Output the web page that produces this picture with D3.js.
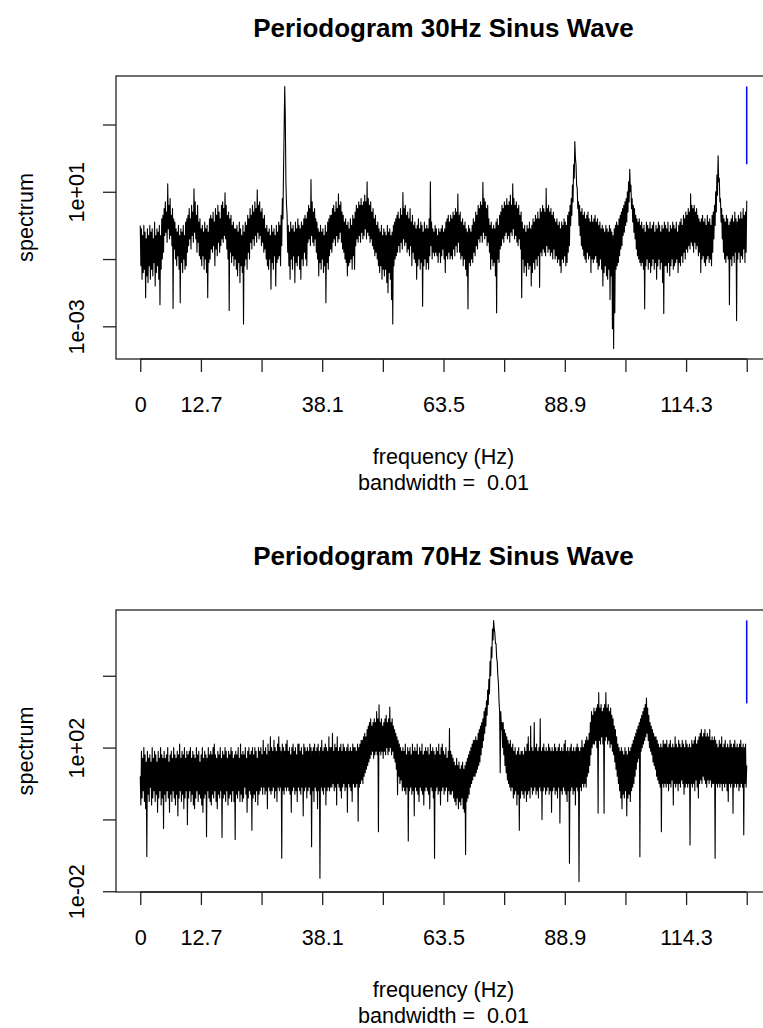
<!DOCTYPE html>
<html>
<head>
<meta charset="utf-8">
<script src="https://cdn.jsdelivr.net/npm/d3@7"></script>
<style>
  body { margin: 0; background: #fff; }
  text { font-family: "Liberation Sans", Arial, Helvetica, sans-serif; fill: #000; }
</style>
</head>
<body>
<svg width="763" height="1028"></svg>
<script>
// frequency grid of both periodograms (Hz)
const freqStep = 0.125;

// log10(spectrum), one value every freqStep Hz from 0 to 127
// (one row = 5 Hz)
const spec30Log = [
    0.0,-1.2, -0.1,-1.6, -0.3,-1.4, 0.0,-1.3, -0.2,-2.15, -0.4,-1.5, -0.1,-1.7, -0.3,-1.2, 0.0,-1.6, -0.2,-1.3, -0.1,-1.5, -0.4,-1.1, 0.1,-1.8, -0.3,-1.4, -0.1,-1.2, -0.2,-1.6, 0.0,-2.36, -0.3,-1.3, 0.2,-1.0, 0.3,-0.8,
    0.5,-0.3, 0.7,-0.2, 0.4,-0.5, 1.24,-0.1, 0.6,-0.4, 0.8,-0.3, 0.3,-0.6, 0.5,-2.47, 0.2,-0.7, 0.1,-1.0, -0.1,-1.2, -0.2,-0.9, 0.0,-1.3, -0.3,-2.3, -0.1,-1.1, -0.2,-1.4, 0.0,-1.0, -0.3,-1.3, 0.1,-1.2, 0.2,-0.8,
    0.3,-0.6, 0.5,-0.4, 0.2,-0.7, 0.6,-0.3, 0.4,-0.5, 1.09,-0.2, 0.7,-0.4, 0.3,-0.8, 0.6,-0.5, 0.1,-0.9, 0.2,-1.0, -0.1,-1.2, 0.0,-0.9, -0.2,-1.3, 0.1,-1.0, -0.1,-1.4, 0.0,-2.15, -0.2,-1.1, 0.2,-1.0, 0.3,-0.7,
    0.2,-0.8, 0.4,-0.6, 0.1,-1.2, 0.5,-0.7, 0.3,-0.9, 0.6,-0.5, 0.4,-0.8, 0.2,-0.6, 0.6,-0.4, 0.7,-0.5, 0.5,-0.3, 0.97,-0.4, 0.6,-0.7, 0.3,-1.0, 0.4,-2.53, 0.2,-0.8, 0.3,-1.1, 0.0,-0.9, 0.1,-1.2, -0.1,-1.0,
    -0.1,-1.3, 0.0,-1.5, -0.2,-1.1, 0.1,-1.7, -0.1,-1.2, -0.3,-1.4, 0.0,-2.93, -0.2,-1.2, 0.1,-1.0, 0.0,-1.3, 0.3,-0.8, 0.2,-1.0, 0.5,-0.5, 0.3,-0.7, 0.6,-0.4, 0.4,-0.6, 0.7,-0.3, 0.5,-0.5, 1.06,-0.2, 0.6,-0.4,
    0.7,-0.3, 0.4,-0.6, 0.5,-0.5, 0.2,-0.8, 0.3,-0.7, -0.1,-1.0, 0.0,-1.2, -0.2,-1.3, -0.1,-1.0, -0.3,-1.9, 0.0,-1.1, -0.2,-1.3, -0.1,-0.9, -0.3,-1.8, 0.0,-1.1, -0.2,-1.0, 0.1,-0.9, 0.0,-1.2, 0.3,-0.6, 0.8,0.2,
    1.6,2.8, 4.13,3.2, 1.3,0.6, 0.3,-0.8, 0.0,-1.2, -0.2,-1.6, 0.1,-1.0, -0.1,-1.3, 0.0,-0.9, -0.2,-1.7, 0.1,-1.1, -0.1,-1.2, 0.2,-0.9, 0.0,-1.3, -0.1,-1.6, 0.1,-1.0, 0.0,-1.2, 0.2,-0.8, 0.3,-1.0, 0.2,-1.2,
    0.4,-0.5, 0.6,-0.4, 0.5,-0.6, 1.36,-0.3, 0.7,-0.5, 0.4,-0.6, 0.5,-0.4, 0.2,-0.8, 0.1,-1.0, -0.1,-1.5, -0.2,-1.1, 0.0,-1.3, -0.2,-1.0, -0.1,-1.4, -0.3,-1.2, 0.0,-2.3, -0.2,-1.1, 0.1,-1.3, 0.2,-0.9, 0.3,-0.7,
    0.3,-0.8, 0.5,-0.5, 0.6,-0.4, 0.4,-0.6, 0.7,-0.3, 0.5,-0.5, 0.94,-0.4, 0.6,-0.2, 0.7,-0.5, 0.4,-0.7, 0.3,-0.8, 0.1,-1.0, 0.2,-1.1, 0.0,-1.5, 0.1,-1.2, -0.1,-1.1, 0.2,-1.0, 0.0,-1.3, 0.3,-0.9, 0.2,-1.3,
    0.4,-0.6, 0.6,-0.4, 0.5,-0.5, 0.7,-0.3, 0.6,-0.5, 0.8,-0.2, 0.6,-0.4, 0.7,-0.3, 0.9,-0.1, 0.7,-0.4, 1.3,-0.2, 0.8,-0.3, 0.6,-0.5, 0.7,-0.4, 0.4,-0.6, 0.5,-0.7, 0.2,-0.9, 0.3,-0.8, 0.0,-1.0, 0.1,-1.2,
    -0.1,-1.4, -0.2,-1.2, 0.0,-1.6, -0.3,-1.3, -0.1,-1.5, -0.2,-1.3, -0.3,-1.7, 0.0,-2.0, -0.2,-1.4, -0.1,-1.6, -0.3,-2.2, -0.2,-2.93, 0.0,-1.2, 0.1,-1.0, 0.2,-0.9, 0.3,-0.8, 0.4,-0.6, 0.2,-0.8, 0.5,-0.5, 0.3,-0.7,
    0.98,-0.4, 0.5,-0.6, 0.6,-0.5, 0.3,-0.8, 0.4,-0.7, 0.2,-0.9, 0.5,-0.6, 0.1,-1.2, 0.3,-0.8, 0.0,-1.0, 0.1,-1.1, -0.1,-1.6, 0.0,-1.2, 0.2,-1.0, -0.1,-1.3, 0.1,-1.1, 0.0,-2.4, -0.2,-1.2, 0.1,-1.0, -0.1,-1.3,
    0.0,-1.1, -0.1,-1.3, 0.2,-0.9, 1.3,-0.6, 0.1,-1.0, -0.1,-0.8, -0.2,-0.9, 0.0,-0.8, -0.1,-0.9, -0.3,-1.1, -0.1,-0.8, -0.2,-1.1, -0.1,-0.9, 0.0,-0.7, -0.2,-1.0, -0.1,-1.4, 0.1,-0.9, 0.2,-1.0, 0.3,-0.8, 0.1,-1.0,
    0.3,-0.9, 0.2,-1.0, 0.4,-0.7, 0.3,-0.9, 0.5,-0.6, 0.4,-0.8, 0.93,-0.5, 0.3,-0.8, 0.4,-1.0, 0.1,-0.9, 0.2,-1.2, 0.0,-1.0, 0.1,-1.3, -0.1,-1.5, -0.2,-2.48, 0.0,-1.1, -0.1,-1.2, -0.2,-1.0, 0.0,-1.1, 0.2,-0.8,
    0.1,-0.9, 0.4,-0.6, 0.3,-0.7, 0.6,-0.4, 0.5,-0.5, 0.7,-0.3, 0.6,-0.5, 1.28,-0.2, 0.8,-0.4, 0.7,-0.3, 0.5,-0.6, 0.6,-0.5, 0.2,-0.8, 0.0,-1.3, 0.1,-1.0, -0.1,-1.2, 0.0,-1.1, -0.1,-1.5, 0.1,-2.6, 0.2,-1.0,
    0.0,-1.1, 0.3,-0.7, 0.4,-0.6, 0.6,-0.4, 0.5,-0.5, 0.7,-0.3, 0.6,-0.2, 0.8,-0.4, 0.6,-0.3, 0.7,-0.5, 0.9,-0.2, 0.6,-0.3, 1.24,-0.1, 0.8,-0.4, 0.6,-0.3, 0.7,-0.5, 0.5,-0.6, 0.6,-0.4, 0.3,-0.7, 0.4,-2.15,
    0.1,-1.0, -0.1,-1.4, 0.0,-1.2, -0.2,-1.5, 0.0,-1.1, -0.1,-1.3, 0.1,-1.2, -0.1,-1.8, 0.0,-1.4, 0.2,-1.1, 0.1,-1.3, 0.3,-1.0, 0.2,-1.2, 0.4,-0.9, 0.2,-1.84, 0.5,-0.8, 0.4,-0.9, 0.6,-0.7, 0.5,-0.8, 0.4,-0.9,
    1.1,-0.6, 0.5,-0.8, 0.6,-0.7, 0.4,-0.9, 0.5,-0.8, 0.3,-1.0, 0.4,-0.7, 0.2,-1.0, 0.1,-0.9, 0.2,-1.1, 0.0,-1.0, 0.1,-1.2, -0.1,-1.4, 0.1,-1.0, 0.0,-1.1, 0.2,-0.9, 0.1,-1.2, 0.0,-1.1, 0.3,-0.8, 0.4,-0.6,
    0.6,0.0, 0.8,0.3, 1.2,0.7, 1.8,1.4, 2.49,2.0, 1.8,1.2, 1.1,0.5, 0.7,0.0, 0.6,-0.3, 0.4,-0.6, 0.5,-0.7, 0.3,-0.9, 0.4,-1.0, 0.2,-1.1, 0.3,-0.8, 0.4,-1.0, 0.2,-0.9, 0.1,-1.4, 0.3,-1.0, 0.1,-1.1,
    0.2,-1.0, 0.3,-0.9, 0.1,-1.1, 0.2,-1.3, 0.0,-1.2, 0.1,-1.0, -0.1,-1.3, 0.0,-1.8, -0.1,-1.4, -0.2,-1.2, 0.0,-1.5, -0.1,-1.6, -0.2,-1.3, 0.0,-2.2, -0.1,-1.5, -0.2,-3.07, -0.3,-3.66, -0.1,-2.6, 0.0,-1.3, 0.1,-1.2,
    0.0,-1.1, 0.2,-0.9, 0.3,-0.7, 0.4,-0.6, 0.5,-0.3, 0.6,-0.2, 0.7,0.0, 0.8,0.1, 1.0,0.4, 1.3,0.7, 1.67,1.0, 1.2,0.5, 0.8,0.1, 0.6,-0.2, 0.5,-0.4, 0.3,-0.7, 0.2,-0.9, 0.1,-1.0, 0.2,-1.1, 0.0,-1.2,
    0.1,-1.1, -0.1,-1.3, 0.0,-2.48, -0.2,-1.2, 0.1,-1.0, 0.0,-1.3, -0.1,-1.1, 0.1,-1.4, -0.1,-1.2, 0.0,-1.0, 0.1,-1.3, -0.2,-1.1, 0.0,-1.6, -0.1,-1.2, 0.1,-1.0, 0.0,-1.3, -0.2,-1.1, 0.0,-1.7, -0.1,-2.62, 0.1,-1.2,
    0.0,-1.2, -0.1,-1.4, 0.1,-1.1, -0.2,-1.5, 0.0,-1.2, -0.1,-1.0, 0.1,-1.3, 0.0,-1.2, -0.1,-1.1, 0.1,-1.0, -0.2,-1.4, 0.0,-1.1, 0.1,-1.2, 0.2,-0.9, 0.0,-1.1, 0.3,-0.8, 0.2,-1.0, 0.4,-0.7, 0.3,-0.8, 0.5,-0.6,
    0.4,-0.7, 0.94,-0.5, 0.6,-0.6, 0.5,-0.8, 0.6,-0.5, 0.4,-0.7, 0.5,-0.6, 0.3,-0.9, 0.2,-0.8, 0.1,-1.4, 0.2,-1.0, 0.3,-0.9, 0.1,-1.1, 0.2,-1.2, 0.0,-1.0, 0.3,-0.9, 0.1,-1.1, 0.2,-1.0, 0.0,-1.2, 0.3,-0.8,
    0.4,-0.4, 0.6,0.0, 1.0,0.4, 1.5,0.9, 2.07,1.3, 1.4,0.7, 0.8,0.1, 0.5,-0.4, 0.3,-0.8, 0.2,-1.0, 0.1,-1.1, 0.3,-0.9, 0.2,-1.0, 0.0,-2.36, 0.1,-1.0, 0.2,-1.2, 0.3,-0.9, 0.1,-1.1, 0.4,-0.8, 0.2,-2.83,
    0.1,-1.0, 0.3,-0.8, 0.2,-1.1, 0.4,-0.9, 0.2,-1.0, 0.5,-0.7, 0.3,-1.1, 0.4,-0.8, 0.73
];

const spec70Log = [
    1.2,0.4, 1.9,0.6, 1.7,0.8, 2.0,0.5, 1.8,0.3, 1.6,-1.03, 1.9,0.7, 1.7,0.5, 1.8,0.9, 1.6,0.4, 2.0,0.6, 1.7,0.8, 1.9,0.5, 1.8,0.7, 1.6,0.2, 1.9,0.6, 1.7,0.8, 2.0,0.4, 1.8,0.6, 1.7,-0.25,
    1.9,0.7, 1.7,0.5, 1.8,0.8, 2.0,0.6, 1.6,0.2, 1.8,0.7, 1.9,0.5, 1.7,0.8, 2.0,0.6, 1.8,0.4, 1.7,0.7, 1.9,0.1, 1.8,0.6, 2.1,0.8, 1.7,0.5, 1.9,0.7, 1.8,0.3, 2.0,0.6, 1.7,0.8, 1.9,-0.15,
    1.8,0.6, 1.9,0.8, 2.0,0.5, 1.7,0.7, 1.9,0.4, 1.8,0.3, 1.7,0.6, 2.0,0.8, 1.8,0.5, 1.9,0.7, 1.6,0.6, 1.8,0.4, 2.0,0.2, 1.7,0.6, 1.9,0.7, 1.8,-0.48, 1.7,0.8, 2.0,0.6, 1.8,0.5, 1.9,0.4,
    1.8,0.7, 2.0,0.6, 2.1,0.8, 1.8,0.5, 1.7,0.3, 1.9,0.7, 1.8,0.6, 2.0,0.8, 1.7,-0.5, 1.9,0.6, 1.8,0.7, 2.0,0.5, 1.9,0.8, 1.7,0.4, 1.9,0.6, 1.8,0.7, 2.0,0.5, 1.9,0.8, 1.7,0.5, 1.8,-0.56,
    1.9,0.7, 1.8,0.6, 2.0,0.8, 1.7,0.5, 2.1,0.7, 1.8,0.5, 1.9,0.6, 1.8,0.9, 2.0,0.7, 1.7,0.2, 1.9,0.6, 2.0,0.8, 1.8,0.7, 1.9,-0.3, 2.0,0.6, 1.8,0.7, 2.0,0.5, 1.9,0.8, 1.7,0.4, 2.0,0.7,
    1.9,0.8, 2.0,0.9, 1.8,0.7, 2.2,0.9, 1.9,0.7, 2.0,0.8, 1.8,0.3, 2.1,0.9, 1.9,0.8, 2.3,0.7, 2.0,0.8, 1.9,0.9, 2.2,0.6, 2.0,0.8, 1.9,0.5, 2.1,0.9, 2.3,0.8, 2.0,0.9, 1.9,-1.08, 2.1,0.8,
    2.0,0.7, 1.9,0.9, 2.1,0.8, 2.2,0.9, 1.9,0.8, 2.0,0.7, 1.8,0.2, 2.0,0.8, 2.1,0.9, 1.9,0.7, 2.0,0.8, 1.8,0.5, 2.1,0.9, 2.1,0.8, 1.9,0.7, 2.0,0.9, 1.8,0.1, 2.1,0.8, 2.0,0.9, 1.9,0.6,
    2.0,0.8, 1.9,0.9, 2.1,0.7, 2.0,-0.76, 1.9,0.8, 2.0,0.5, 2.1,0.9, 1.9,0.8, 2.0,0.3, 2.1,0.8, 1.9,-1.64, 2.0,0.9, 2.2,0.8, 1.9,0.7, 2.0,0.9, 2.1,0.4, 2.0,0.8, 1.9,0.9, 2.3,0.8, 2.0,0.9,
    2.0,0.9, 2.4,1.0, 1.9,0.8, 2.1,0.9, 2.0,0.4, 2.3,1.0, 1.9,0.9, 2.0,0.8, 2.1,0.6, 1.9,0.9, 2.1,1.0, 2.0,0.8, 1.9,0.9, 2.0,0.2, 2.1,1.0, 1.9,0.9, 2.0,0.8, 1.9,0.5, 2.1,1.0, 2.0,0.9,
    2.0,0.9, 1.9,1.0, 2.1,-0.05, 2.0,0.9, 2.1,1.0, 2.2,1.1, 2.2,1.0, 2.3,1.2, 2.4,1.3, 2.3,1.4, 2.5,1.5, 2.6,1.6, 2.7,1.7, 2.8,1.8, 2.6,1.9, 2.7,1.7, 2.8,1.8, 2.7,1.9, 3.0,1.8, 2.8,-0.34,
    3.19,1.9, 2.7,1.8, 2.8,1.9, 2.6,1.7, 2.7,1.9, 2.8,1.8, 2.9,2.0, 2.7,1.8, 2.8,1.9, 3.13,2.0, 2.7,1.8, 2.8,1.9, 2.6,1.7, 2.5,1.6, 2.4,1.4, 2.3,0.69, 2.2,1.2, 2.1,1.0, 2.0,1.1, 1.9,0.8,
    2.0,0.9, 1.9,0.8, 2.1,0.7, 1.8,0.9, 2.0,-0.6, 1.9,0.8, 2.0,0.9, 1.8,0.7, 2.1,0.8, 1.9,0.1, 2.0,0.9, 1.9,0.8, 2.1,0.7, 1.8,0.5, 2.0,0.9, 1.9,0.8, 2.1,0.7, 1.8,0.4, 1.9,0.8, 2.0,0.9,
    1.9,0.8, 2.0,0.7, 1.8,0.3, 2.1,0.9, 1.9,0.8, 2.0,0.6, 1.9,-1.08, 1.8,0.8, 2.0,0.9, 1.9,0.7, 2.1,0.8, 1.8,0.4, 2.0,0.8, 2.1,0.9, 1.9,0.7, 1.8,0.8, 2.0,0.9, 1.7,0.5, 1.9,0.8, 2.53,0.7,
    1.9,0.7, 1.8,0.8, 1.7,0.6, 1.6,0.5, 1.5,0.4, 1.7,0.6, 1.5,0.3, 1.6,0.5, 1.4,0.4, 1.5,0.6, 1.6,0.3, 1.4,0.2, 1.5,-0.98, 1.6,0.5, 1.7,0.6, 1.8,0.7, 1.9,0.9, 2.0,1.0, 2.1,1.1, 2.2,1.2,
    2.2,1.2, 2.3,1.3, 2.2,1.4, 2.4,1.5, 2.5,1.6, 2.6,1.8, 2.7,2.0, 2.8,2.2, 3.0,2.4, 3.1,2.6, 3.3,2.9, 3.6,3.2, 3.9,3.5, 4.4,4.0, 4.8,4.5, 5.3,5.0, 5.54,5.3, 5.2,4.9, 4.9,4.5, 4.4,4.0,
    3.8,3.3, 3.0,1.3, 3.0,2.5, 2.7,2.0, 2.7,1.8, 2.5,1.5, 2.4,1.3, 2.3,1.1, 2.2,1.0, 2.1,0.9, 2.2,0.8, 2.0,0.9, 2.1,0.6, 1.9,0.7, 2.0,0.8, 1.8,0.4, 1.9,0.7, 2.0,-0.3, 1.8,0.6, 1.9,0.8,
    1.9,0.7, 1.8,0.6, 2.0,0.8, 1.9,0.5, 2.1,0.7, 2.3,0.8, 1.9,0.6, 2.6,0.9, 2.0,0.7, 1.9,0.8, 2.7,0.9, 2.0,0.7, 2.1,0.8, 1.9,0.6, 2.0,0.9, 2.8,0.8, 1.9,0.0, 2.0,0.8, 2.1,0.9, 1.9,0.7,
    2.0,0.8, 1.9,0.9, 2.1,0.7, 2.0,0.8, 1.9,0.2, 2.0,0.8, 1.9,0.9, 2.1,0.7, 2.0,0.8, 1.9,0.6, 2.0,0.9, 2.1,-0.1, 1.9,0.8, 2.0,0.7, 1.9,0.9, 2.1,0.8, 2.2,0.7, 1.9,0.5, 2.0,0.8, 1.9,-1.22,
    2.0,0.8, 2.1,0.9, 1.9,0.7, 2.0,0.8, 1.9,0.4, 2.0,0.9, 2.1,0.8, 2.0,-1.73, 1.9,0.9, 2.0,0.8, 2.2,1.0, 2.0,0.9, 2.1,1.0, 2.2,0.9, 2.3,1.2, 2.2,1.3, 2.4,1.5, 2.7,1.8, 3.0,2.0, 2.9,2.1,
    3.1,2.1, 3.0,2.2, 3.1,2.0, 3.2,0.17, 3.53,2.2, 3.1,2.1, 3.2,2.3, 3.0,2.1, 3.1,0.17, 3.2,2.2, 3.53,2.3, 3.1,2.1, 3.2,2.2, 3.0,2.0, 3.1,2.1, 2.9,1.9, 2.8,1.8, 2.6,1.6, 2.5,1.4, 2.3,1.2,
    2.1,1.0, 2.0,0.8, 1.9,0.6, 2.0,0.3, 1.9,0.7, 1.8,0.6, 2.0,0.8, 1.9,0.1, 1.8,0.6, 2.0,0.7, 1.9,0.5, 2.0,0.8, 2.1,0.9, 2.2,1.0, 2.3,1.2, 2.4,1.4, 2.5,1.6, 2.6,1.7, 2.7,-1.04, 2.8,1.9,
    2.9,2.0, 3.0,2.1, 3.1,2.2, 3.2,2.3, 3.38,2.4, 3.1,2.2, 2.9,2.0, 2.7,1.9, 2.6,1.8, 2.5,1.6, 2.4,1.5, 2.3,1.4, 2.3,1.2, 2.2,1.1, 2.1,1.0, 2.0,0.9, 2.1,-0.34, 2.0,1.0, 2.2,0.9, 2.1,1.0,
    2.1,0.9, 2.2,1.0, 2.0,0.8, 2.1,1.0, 2.2,0.9, 2.0,1.1, 2.1,0.4, 2.0,1.0, 2.3,0.9, 2.1,1.0, 2.0,0.8, 2.2,1.0, 2.1,0.9, 2.0,1.1, 2.2,1.0, 2.1,0.7, 2.0,0.9, 2.2,1.0, 2.1,0.9, 2.0,1.0,
    2.1,-0.71, 2.0,1.0, 2.2,0.9, 2.1,1.0, 2.2,0.8, 2.3,1.1, 2.1,0.9, 2.2,0.6, 2.3,1.0, 2.4,1.1, 2.5,1.0, 2.3,1.2, 2.4,1.1, 2.5,1.0, 2.3,0.9, 2.4,1.1, 2.3,1.0, 2.5,1.1, 2.2,0.9, 2.3,1.0,
    2.2,1.0, 2.3,-1.08, 2.2,1.0, 2.1,0.9, 2.0,1.0, 2.2,0.9, 2.1,1.0, 2.3,0.8, 2.0,1.0, 2.1,0.9, 2.2,1.0, 2.0,0.8, 2.1,0.5, 2.0,1.0, 2.2,0.9, 2.1,1.0, 2.0,0.17, 2.1,0.9, 2.2,1.0, 2.0,0.9,
    2.1,1.0, 2.0,0.8, 2.1,0.9, 2.2,1.0, 2.0,0.9, 2.1,-0.43, 2.0,1.0, 2.1,0.9, 1.5
];

const titles = ["Periodogram 30Hz Sinus Wave", "Periodogram 70Hz Sinus Wave"];

// x axis: ticks every 12.7 Hz, some labels dropped as in the original
const xTicks = [0, 12.7, 25.4, 38.1, 50.8, 63.5, 76.2, 88.9, 101.6, 114.3, 127];
const xTickLabels = ["0", "12.7", "", "38.1", "", "63.5", "", "88.9", "", "114.3", ""];

// y axis (log) ticks for each panel
const yTicks30 = [1e-3, 1e-1, 1e1, 1e3];
const yTickLabels30 = ["1e-03", "", "1e+01", ""];
const yTicks70 = [1e-2, 1e0, 1e2, 1e4];
const yTickLabels70 = ["1e-02", "", "1e+02", ""];

// confidence bar: lower end as a fraction of the peak value
const ciLowerRatio = 0.0049;
const bandwidth = 0.01;

const xLabel = "frequency (Hz)";
const subLabel = "bandwidth =  0.01";
const yLabel = "spectrum";

let svg = d3.select("svg");

// plot region in pixels for each panel
const plotLeft = 116, plotRight = 771;
const panelBoxes = [
    {top: 76, bottom: 359, titleY: 37},
    {top: 610, bottom: 892, titleY: 565}
];

drawPanel(spec30Log, titles[0], yTicks30, yTickLabels30, panelBoxes[0]);
drawPanel(spec70Log, titles[1], yTicks70, yTickLabels70, panelBoxes[1]);

/** Functions **/

function drawPanel(specLog, title, yTicks, yTickLabels, box) {
    let data = specLog.map(function (v, i) {
        return {f: i * freqStep, s: Math.pow(10, v)};
    });

    let fMax = d3.max(data, d => d.f);
    // R style 4% padding on both axes
    let x = d3.scaleLinear()
        .domain([-0.04 * fMax, 1.04 * fMax])
        .range([plotLeft, plotRight]);

    let lo = d3.min(specLog), hi = d3.max(specLog);
    let pad = 0.04 * (hi - lo);
    let y = d3.scaleLog()
        .domain([Math.pow(10, lo - pad), Math.pow(10, hi + pad)])
        .range([box.bottom, box.top]);

    let g = svg.append("g");

    // spectrum line
    g.append("path")
        .datum(data)
        .attr("fill", "none")
        .attr("stroke", "#000")
        .attr("stroke-width", 1.1)
        .attr("stroke-linejoin", "round")
        .attr("d", d3.line()
            .x(d => x(d.f))
            .y(d => y(d.s)));

    // blue confidence bar at max freq - bandwidth
    let sMax = d3.max(data, d => d.s);
    g.append("line")
        .attr("x1", x(fMax - bandwidth))
        .attr("x2", x(fMax - bandwidth))
        .attr("y1", y(sMax))
        .attr("y2", y(sMax * ciLowerRatio))
        .attr("stroke", "#0000ff")
        .attr("stroke-width", 1.5);

    // box
    g.append("rect")
        .attr("x", plotLeft)
        .attr("y", box.top)
        .attr("width", plotRight - plotLeft)
        .attr("height", box.bottom - box.top)
        .attr("fill", "none")
        .attr("stroke", "#222")
        .attr("stroke-width", 1.3);

    // x axis
    let xAxis = d3.axisBottom(x)
        .tickValues(xTicks)
        .tickSize(13)
        .tickPadding(25)
        .tickFormat(function (d, i) {
            return xTickLabels[i];
        });
    let gx = g.append("g")
        .attr("transform", "translate(0," + box.bottom + ")")
        .call(xAxis);
    styleAxis(gx);
    gx.select(".domain").remove();
    gx.append("line")
        .attr("x1", x(xTicks[0]))
        .attr("x2", x(xTicks[xTicks.length - 1]))
        .attr("stroke", "#222")
        .attr("stroke-width", 1.3);

    // y axis, labels rotated parallel to the axis
    let yAxis = d3.axisLeft(y)
        .tickValues(yTicks)
        .tickSize(13)
        .tickFormat(function (d, i) {
            return yTickLabels[i];
        });
    let gy = g.append("g")
        .attr("transform", "translate(" + plotLeft + ",0)")
        .call(yAxis);
    styleAxis(gy);
    gy.select(".domain").remove();
    gy.selectAll(".tick text")
        .attr("x", null)
        .attr("dy", null)
        .attr("text-anchor", "middle")
        .attr("transform", "translate(-28,0) rotate(-90)")
        .attr("dy", "-0.2em");

    // titles and labels
    let cx = (plotLeft + plotRight) / 2;
    g.append("text")
        .attr("x", cx)
        .attr("y", box.titleY)
        .attr("text-anchor", "middle")
        .attr("font-size", 26)
        .attr("font-weight", "bold")
        .text(title);

    g.append("text")
        .attr("x", cx)
        .attr("y", box.bottom + 105)
        .attr("text-anchor", "middle")
        .attr("font-size", 21.6)
        .text(xLabel);

    g.append("text")
        .attr("x", cx)
        .attr("y", box.bottom + 131)
        .attr("text-anchor", "middle")
        .attr("font-size", 21.6)
        .style("white-space", "pre")
        .text(subLabel);

    g.append("text")
        .attr("transform", "translate(33," + ((box.top + box.bottom) / 2) + ") rotate(-90)")
        .attr("text-anchor", "middle")
        .attr("font-size", 21.6)
        .text(yLabel);
}

function styleAxis(sel) {
    sel.attr("font-size", 21.6)
        .attr("font-family", null);
    sel.selectAll(".tick line")
        .attr("stroke", "#222")
        .attr("stroke-width", 1.3);
    sel.selectAll(".tick text")
        .attr("fill", "#000");
}
</script>
</body>
</html>
